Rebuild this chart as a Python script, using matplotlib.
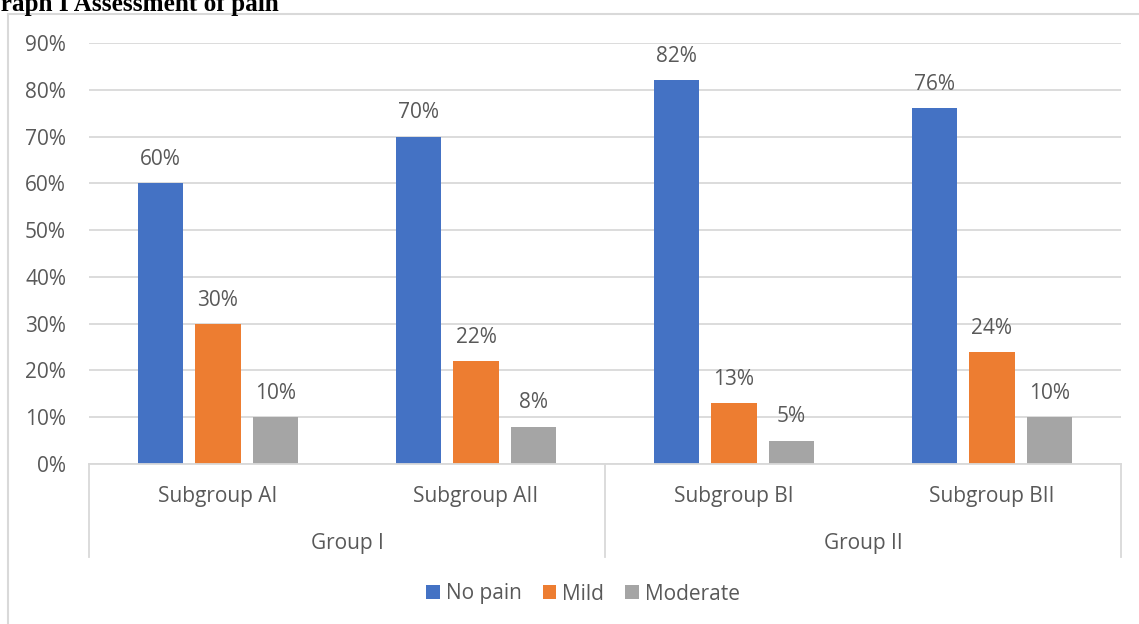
import matplotlib
matplotlib.use("Agg")
import matplotlib.pyplot as plt
import matplotlib.transforms as mtransforms
from matplotlib.lines import Line2D
import numpy as np

# data
subgroups = ["Subgroup AI", "Subgroup AII", "Subgroup BI", "Subgroup BII"]
groups = ["Group I", "Group II"]
group_sizes = [2, 2]
series = ["No pain", "Mild", "Moderate"]
no_pain = [60, 70, 82, 76]
mild = [30, 22, 13, 24]
moderate = [10, 8, 5, 10]
yticks = [0, 10, 20, 30, 40, 50, 60, 70, 80, 90]

colors = ["#4472C4", "#ED7D31", "#A5A5A5"]
txt = "#595959"
line_c = "#D9D9D9"
fs = 15

plt.rcParams["font.family"] = ["Open Sans", "DejaVu Sans"]

W, H = 1139, 624
fig = plt.figure(figsize=(W / 100, H / 100), dpi=100)
ax = fig.add_axes([89 / W, 1 - 464 / H, (1121 - 89) / W, (464 - 43) / H])

x = np.arange(len(subgroups))
width = 0.175
off = 0.222
for i, (vals, name) in enumerate(zip([no_pain, mild, moderate], series)):
    bars = ax.bar(x + (i - 1) * off, vals, width, color=colors[i], label=name, zorder=3)
    for bar, v in zip(bars, vals):
        ax.annotate(f"{v}%", (bar.get_x() + bar.get_width() / 2, v),
                    xytext=(0, 17), textcoords="offset points",
                    ha="center", va="center", fontsize=fs, color=txt)

ax.set_xlim(-0.5, len(subgroups) - 0.5)
ax.set_ylim(0, 90)
ax.set_yticks(yticks)
ax.set_yticklabels([f"{t}%" for t in yticks], fontsize=fs, color=txt)
ax.tick_params(axis="y", length=0, pad=16.5)
ax.set_xticks([])
ax.grid(axis="y", color=line_c, linewidth=1.3, zorder=0)
for s in ["top", "right", "left"]:
    ax.spines[s].set_visible(False)
ax.spines["bottom"].set_color(line_c)
ax.spines["bottom"].set_linewidth(1.3)
ax.spines["bottom"].set_zorder(4)

# multi-level category axis
trans = mtransforms.blended_transform_factory(ax.transData, ax.transAxes)
for i, lab in enumerate(subgroups):
    ax.text(i, -0.078, lab, transform=trans, ha="center", va="center",
            fontsize=fs, color=txt)
start = 0
edges = [-0.5]
for g, n in zip(groups, group_sizes):
    mid = start + (n - 1) / 2
    ax.text(mid, -0.188, g, transform=trans, ha="center", va="center",
            fontsize=fs, color=txt)
    start += n
    edges.append(start - 0.5)
for e in edges:
    ax.add_line(Line2D([e, e], [0, -0.221], transform=trans, color=line_c,
                       linewidth=1.3, clip_on=False))

leg = fig.legend(loc="center", bbox_to_anchor=(583 / W, 1 - 594 / H), ncol=3,
                 frameon=False, fontsize=fs, handlelength=0.65, handleheight=0.65,
                 handletextpad=0.3, columnspacing=1.0)
for t in leg.get_texts():
    t.set_color(txt)

# outer chart frame (cut off at right and bottom)
fig.add_artist(Line2D([8 / W, 8 / W], [0, 1 - 14 / H], transform=fig.transFigure,
                      color=line_c, linewidth=1.5))
fig.add_artist(Line2D([8 / W, 1], [1 - 14 / H, 1 - 14 / H], transform=fig.transFigure,
                      color=line_c, linewidth=1.5))

# caption, clipped at the top edge of the image
fig.text(-19 / W, 1 - 11.5 / H, "Graph I Assessment of pain", family="Liberation Serif",
         fontweight="bold", fontsize=18.2, va="baseline", ha="left", color="black")

fig.savefig("out.png", dpi=100)
